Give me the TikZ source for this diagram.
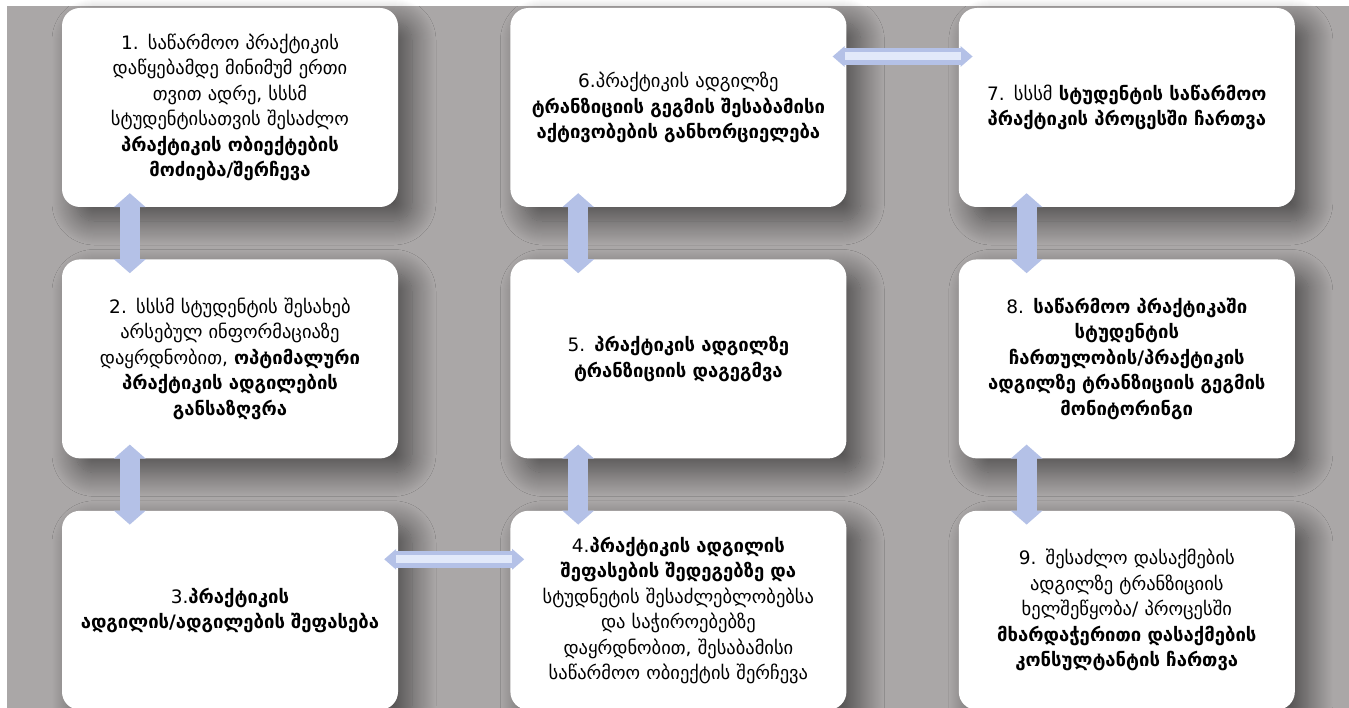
\documentclass[tikz,border=0pt]{standalone}
\usepackage{fontspec}
\setmainfont{DejaVu Sans}
\usetikzlibrary{positioning,arrows.meta,shadows.blur}
\definecolor{bggray}{RGB}{170,167,167}
\definecolor{linkblue}{RGB}{180,193,231}
\definecolor{linklight}{RGB}{226,233,250}
\tikzset{stepbox/.style={fill=white, rounded corners=18pt, minimum width=336pt, minimum height=199pt, text width=330pt, align=center, inner sep=0pt, font=\fontsize{18.5}{25.5}\selectfont, blur shadow={shadow xshift=14pt, shadow yshift=-14pt, shadow blur radius=24pt, shadow blur steps=24, shadow opacity=55}},
  vlink/.style={linkblue, line width=20pt, {Triangle[width=31pt,length=14pt]}-{Triangle[width=31pt,length=14pt]}, shorten <=-14pt, shorten >=-14pt},
  hlink/.style={linkblue, line width=17pt, {Triangle[width=20pt,length=12pt]}-{Triangle[width=20pt,length=12pt]}, shorten <=-14pt, shorten >=-14pt},
  hglow/.style={linklight, line width=8pt, shorten <=-2pt, shorten >=-2pt}}

\begin{document}
\begin{tikzpicture}[x=1pt,y=-1pt]
  \useasboundingbox (0,0) rectangle (1349,708);
  \clip (0,0) rectangle (1349,708);
  \fill[bggray] (7,6) rectangle (1349,708);

  \node[stepbox] (s1) at (230,107.5) {1. საწარმოო პრაქტიკის\\დაწყებამდე მინიმუმ ერთი\\თვით ადრე, სსსმ\\სტუდენტისათვის შესაძლო\\\textbf{პრაქტიკის ობიექტების}\\\textbf{მოძიება/შერჩევა}};
  \node[stepbox] (s2) [below=52pt of s1] {2. სსსმ სტუდენტის შესახებ\\არსებულ ინფორმაციაზე\\დაყრდნობით, \textbf{ოპტიმალური}\\\textbf{პრაქტიკის ადგილების}\\\textbf{განსაზღვრა}};
  \node[stepbox] (s3) [below=52pt of s2] {3.\textbf{პრაქტიკის}\\\textbf{ადგილის/ადგილების შეფასება}};
  \node[stepbox] (s4) [right=112pt of s3] {4.\textbf{პრაქტიკის ადგილის}\\\textbf{შეფასების შედეგებზე და}\\სტუდნეტის შესაძლებლობებსა\\და საჭიროებებზე\\დაყრდნობით, შესაბამისი\\საწარმოო ობიექტის შერჩევა};
  \node[stepbox] (s5) [above=52pt of s4] {5. \textbf{პრაქტიკის ადგილზე}\\\textbf{ტრანზიციის დაგეგმვა}};
  \node[stepbox] (s6) [above=52pt of s5] {6.პრაქტიკის ადგილზე\\\textbf{ტრანზიციის გეგმის შესაბამისი}\\\textbf{აქტივობების განხორციელება}};
  \node[stepbox] (s7) [right=112pt of s6] {7. სსსმ \textbf{სტუდენტის საწარმოო}\\\textbf{პრაქტიკის პროცესში ჩართვა}};
  \node[stepbox] (s8) [below=52pt of s7] {8. \textbf{საწარმოო პრაქტიკაში}\\\textbf{სტუდენტის}\\\textbf{ჩართულობის/პრაქტიკის}\\\textbf{ადგილზე ტრანზიციის გეგმის}\\\textbf{მონიტორინგი}};
  \node[stepbox] (s9) [below=52pt of s8] {9. შესაძლო დასაქმების\\ადგილზე ტრანზიციის\\ხელშეწყობა/ პროცესში\\\textbf{მხარდაჭერითი დასაქმების}\\\textbf{კონსულტანტის ჩართვა}};

  \draw[vlink] ([xshift=68pt]s1.south west) -- ([xshift=68pt]s2.north west);
  \draw[vlink] ([xshift=68pt]s2.south west) -- ([xshift=68pt]s3.north west);
  \draw[vlink] ([xshift=68pt]s4.north west) -- ([xshift=68pt]s5.south west);
  \draw[vlink] ([xshift=68pt]s5.north west) -- ([xshift=68pt]s6.south west);
  \draw[vlink] ([xshift=68pt]s7.south west) -- ([xshift=68pt]s8.north west);
  \draw[vlink] ([xshift=68pt]s8.south west) -- ([xshift=68pt]s9.north west);

  \draw[hlink] ([yshift=51pt]s3.east) -- ([yshift=51pt]s4.west);
  \draw[hglow] ([yshift=51pt]s3.east) -- ([yshift=51pt]s4.west);
  \draw[hlink] ([yshift=51pt]s6.east) -- ([yshift=51pt]s7.west);
  \draw[hglow] ([yshift=51pt]s6.east) -- ([yshift=51pt]s7.west);
\end{tikzpicture}
\end{document}
